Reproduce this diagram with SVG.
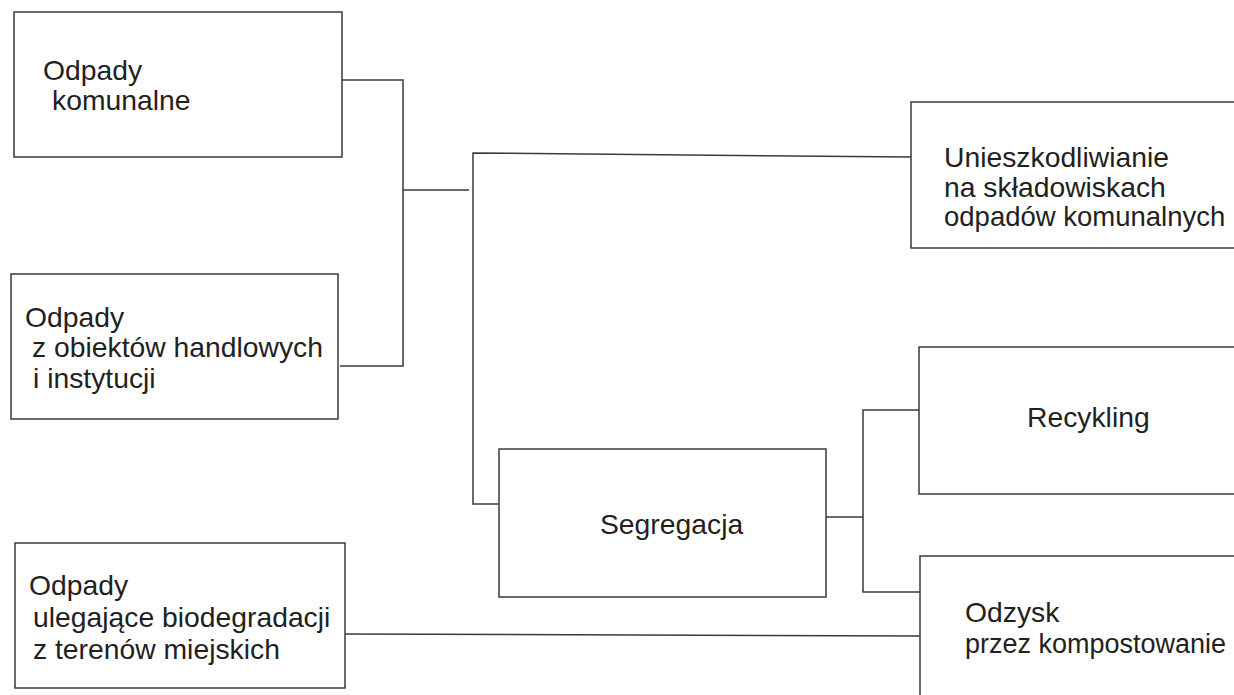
<svg xmlns="http://www.w3.org/2000/svg" width="1234" height="695" viewBox="0 0 1234 695">
<style>
.box{fill:#fff;stroke:#3a3a3a;stroke-width:1.5}
.ln{fill:none;stroke:#3a3a3a;stroke-width:1.5}
text{font-family:"Liberation Sans",Arial,sans-serif;font-size:28.3px;fill:#231f20}
</style>
<rect x="0" y="0" width="1234" height="695" fill="#fff"/>
<g id="connectors">
<polyline class="ln" points="342,80 403,80 403,366 340,366"/>
<line class="ln" x1="403" y1="190" x2="469" y2="190"/>
<polyline class="ln" points="911,157 473,153 473,504 499,504"/>
<line class="ln" x1="826" y1="517" x2="863" y2="517"/>
<polyline class="ln" points="919,410 863,410 863,592 920,592"/>
<line class="ln" x1="345" y1="634" x2="920" y2="636"/>
</g>
<g id="n-komunalne">
<rect class="box" x="14" y="12" width="328" height="145"/>
<text x="43" y="80">Odpady</text>
<text x="52" y="110">komunalne</text>
</g>
<g id="n-handlowe">
<rect class="box" x="11" y="274" width="327" height="145"/>
<text x="25" y="327">Odpady</text>
<text x="32" y="357">z obiektów handlowych</text>
<text x="33" y="388">i instytucji</text>
</g>
<g id="n-bio">
<rect class="box" x="15" y="543" width="330" height="145"/>
<text x="29" y="595">Odpady</text>
<text x="33" y="627">ulegające biodegradacji</text>
<text x="33" y="659">z terenów miejskich</text>
</g>
<g id="n-unieszkodliwianie">
<path class="box" d="M1234,102 H911 V248 H1234"/>
<text x="944" y="167">Unieszkodliwianie</text>
<text x="944" y="197">na składowiskach</text>
<text x="944" y="226" style="font-size:27.5px">odpadów komunalnych</text>
</g>
<g id="n-segregacja">
<rect class="box" x="499" y="449" width="327" height="148"/>
<text x="600" y="534">Segregacja</text>
</g>
<g id="n-recykling">
<path class="box" d="M1234,347 H919 V494 H1234"/>
<text x="1027" y="427">Recykling</text>
</g>
<g id="n-odzysk">
<path class="box" d="M1234,556 H920 V695"/>
<text x="965" y="622">Odzysk</text>
<text x="965" y="653" style="font-size:27px">przez kompostowanie</text>
</g>
</svg>
